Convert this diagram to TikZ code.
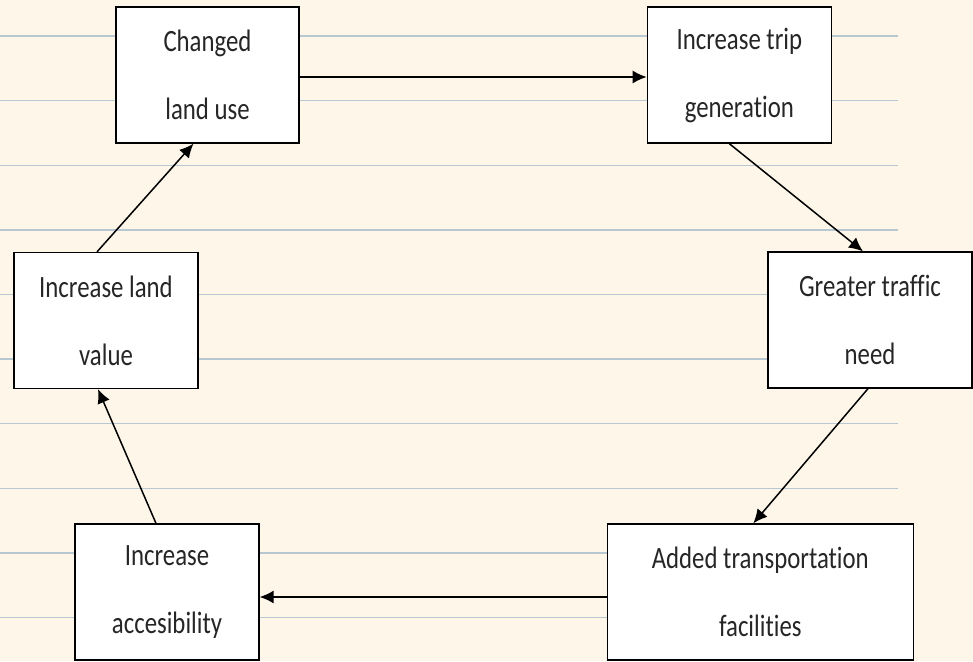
\documentclass[tikz,border=0pt]{standalone}
\usepackage{fontspec}
\setmainfont[FakeStretch=0.8, Ligatures={NoCommon}]{Carlito}
\usepackage{tikz}
\usetikzlibrary{arrows.meta,positioning}
\definecolor{paper}{RGB}{253,246,233}
\definecolor{rule}{RGB}{184,200,211}

\begin{document}
\begin{tikzpicture}[
  x=1pt, y=1pt,
  box/.style={draw, fill=white, line width=1.3pt, minimum width=184pt, minimum height=136pt, align=center, inner sep=2pt, font=\fontsize{31}{68}\selectfont, text=black!85},
  arr/.style={-{Latex[length=14pt,width=13pt]}, line width=1.5pt},
]
  % paper background and ruled lines
  \fill[paper] (0,0) rectangle (973,-661);
  \useasboundingbox (0,0) rectangle (973,-661);
  \foreach \k in {0,...,9}
    \draw[rule, line width=1.4pt] (0,{-36-64.6*\k}) -- (898,{-36-64.6*\k});

  \node[box, minimum width=183pt] (landuse) at (207.5,-75) {Changed\\ land use};
  \node[box, right=347pt of landuse] (trip) {Increase trip\\ generation};
  \node[box, minimum width=204pt] (traffic) at (870,-320) {Greater traffic\\ need};
  \node[box] (access) at (167,-592) {Increase\\ accesibility};
  \node[box, minimum width=306pt, right=347pt of access] (transport) {Added transportation\\ facilities};
  \node[box] (value) at (106,-320.5) {Increase land\\ value};

  \draw[arr] ([yshift=-2pt]landuse.east) -- ([yshift=-2pt]trip.west);
  \draw[arr] ([xshift=-10pt]trip.south) -- ([xshift=-7pt]traffic.north);
  \draw[arr] ([xshift=-2pt]traffic.south) -- ([xshift=-7pt]transport.north);
  \draw[arr] ([yshift=-5pt]transport.west) -- ([yshift=-5pt]access.east);
  \draw[arr] ([xshift=-11pt]access.north) -- ([xshift=-8pt]value.south);
  \draw[arr] ([xshift=-9pt]value.north) -- ([xshift=-14pt]landuse.south);
\end{tikzpicture}
\end{document}
